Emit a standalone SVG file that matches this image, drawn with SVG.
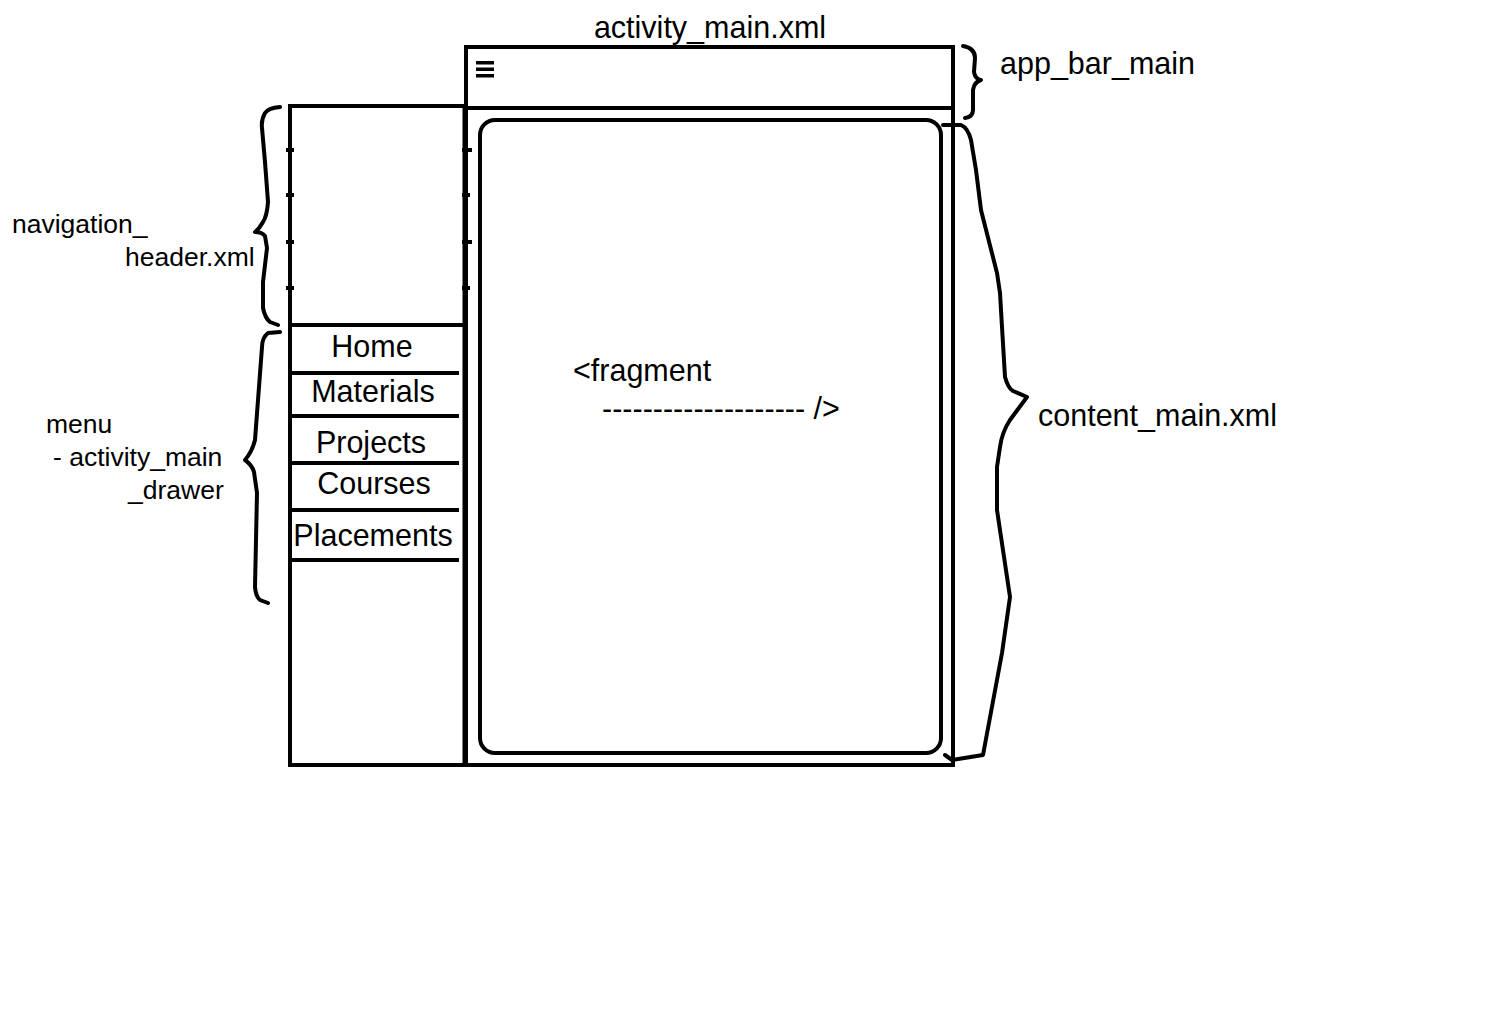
<svg xmlns="http://www.w3.org/2000/svg" width="1500" height="1024" viewBox="0 0 1500 1024">
<style>
.ln{stroke:#000;stroke-width:4;fill:none}
.br{stroke:#000;stroke-width:4;fill:none;stroke-linecap:round;stroke-linejoin:round}
.t{font-family:"Liberation Sans",Arial,sans-serif;font-size:30.5px;fill:#000}
.s{font-family:"Liberation Sans",Arial,sans-serif;font-size:26.5px;fill:#000}
</style>
<rect width="1500" height="1024" fill="#fff"/>
<g id="activity_main">
<rect x="466" y="47" width="487" height="718" class="ln"/>
<text x="710" y="38" class="t" text-anchor="middle">activity_main.xml</text>
</g>
<g id="app_bar">
<line x1="466" y1="108" x2="953" y2="108" class="ln"/>
<rect x="476" y="61" width="18" height="3.5" fill="#000"/>
<rect x="476" y="67.5" width="18" height="3.5" fill="#000"/>
<rect x="476" y="74" width="18" height="3.5" fill="#000"/>
<text x="1000" y="74" class="t">app_bar_main</text>
</g>
<g id="drawer">
<rect x="290" y="106" width="175" height="659" class="ln"/>
<line x1="465" y1="106" x2="465" y2="765" stroke="#000" stroke-width="5"/>
<line x1="290" y1="325" x2="463" y2="325" class="ln"/>
<g stroke="#000" stroke-width="4">
<line x1="286" y1="150" x2="294" y2="150"/>
<line x1="286" y1="195" x2="294" y2="195"/>
<line x1="286" y1="242" x2="294" y2="242"/>
<line x1="286" y1="288" x2="294" y2="288"/>
<line x1="462" y1="150" x2="472" y2="150"/>
<line x1="462" y1="195" x2="470" y2="195"/>
<line x1="462" y1="242" x2="472" y2="242"/>
<line x1="462" y1="288" x2="470" y2="288"/>
</g>
</g>
<g id="menu">
<line x1="290" y1="373" x2="459" y2="373" class="ln"/>
<line x1="290" y1="416" x2="459" y2="416" class="ln"/>
<line x1="290" y1="463" x2="459" y2="463" class="ln"/>
<line x1="290" y1="510" x2="459" y2="510" class="ln"/>
<line x1="290" y1="560" x2="459" y2="560" class="ln"/>
<text x="372" y="357" class="t" text-anchor="middle">Home</text>
<text x="373" y="402" class="t" text-anchor="middle">Materials</text>
<text x="371" y="453" class="t" text-anchor="middle">Projects</text>
<text x="374" y="494" class="t" text-anchor="middle">Courses</text>
<text x="373" y="546" class="t" text-anchor="middle">Placements</text>
</g>
<g id="content">
<rect x="480" y="120" width="461" height="633" rx="15" class="ln"/>
<text x="573" y="381" class="t">&lt;fragment</text>
<text x="602" y="419" class="t">-------------------- /&gt;</text>
<text x="1038" y="426" class="t">content_main.xml</text>
</g>
<g id="labels">
<text x="12" y="233" class="s">navigation_</text>
<text x="125" y="266" class="s">header.xml</text>
<text x="46" y="433" class="s">menu</text>
<text x="53" y="466" class="s">- activity_main</text>
<text x="128" y="499" class="s">_drawer</text>
</g>
<g id="connectors">
<path class="br" d="M963,46 Q975,48 975,58 L974,72 Q975,79 981,80 Q974,82 973,90 L973,110 Q973,117 965,118"/>
<path class="br" d="M943,125 L961,125 Q968,128 971,140 L976,170 L981,210 L997,273 L1000,293 L1002,327 L1005,377 Q1008,388 1013,391 Q1020,394 1027,397 L1010,420 Q1002,432 1000,447 L997,467 L997,510 L1010,597 L1002,653 L983,755 L952,760 L945,755"/>
<path class="br" d="M280,107 Q268,108 265,113 Q261,120 262,128 L265,162 L268,202 Q267,216 263,222 Q259,229 255,232 Q262,232 265,236 L267,248 L263,282 L263,308 Q265,318 270,322 L278,325"/>
<path class="br" d="M280,332 L268,333 Q262,338 262,347 L255,440 Q252,452 245,460 Q252,465 254,472 L257,493 L255,587 Q256,597 260,600 L268,603"/>
</g>
</svg>
